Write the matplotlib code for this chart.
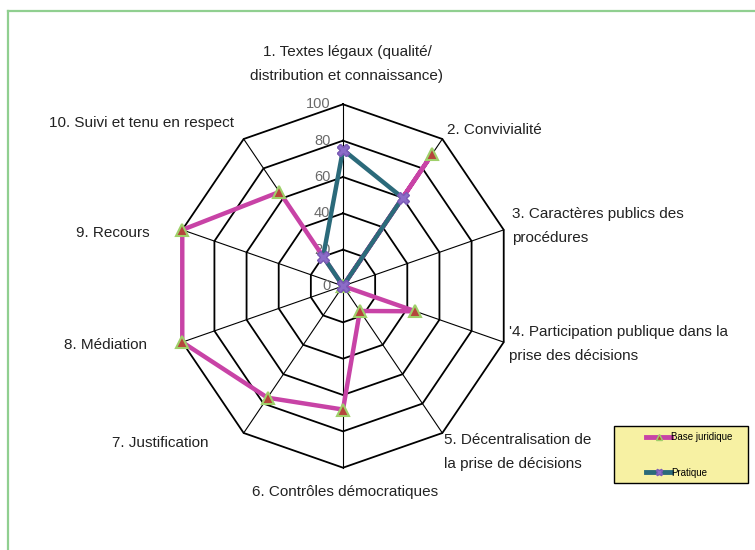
import matplotlib
matplotlib.use("Agg")
import matplotlib.pyplot as plt
import numpy as np
from matplotlib.lines import Line2D
from matplotlib.patches import Rectangle

plt.rcParams["font.family"] = ["Liberation Sans", "DejaVu Sans"]

# Data
categories = [
    "1. Textes légaux (qualité/\ndistribution et connaissance)",
    "2. Convivialité",
    "3. Caractères publics des\nprocédures",
    "'4. Participation publique dans la\nprise des décisions",
    "5. Décentralisation de\nla prise de décisions",
    "6. Contrôles démocratiques",
    "7. Justification",
    "8. Médiation",
    "9. Recours",
    "10. Suivi et tenu en respect",
]
base_juridique = [0, 90, 0, 45, 17, 68, 76, 100, 100, 64]
pratique = [75, 60, 0, 0, 0, 0, 0, 0, 0, 20]
ring_levels = [0, 20, 40, 60, 80, 100]
series_names = ["Base juridique", "Pratique"]

W, H = 755, 550
CX, CY = 343, 286          # centre of the web in pixels
SX, SY = 1.69, 1.817       # pixels per unit along x and y

fig = plt.figure(figsize=(W / 100, H / 100), dpi=100)
ax = fig.add_axes([0, 0, 1, 1])
ax.set_xlim(-CX / SX, (W - CX) / SX)
ax.set_ylim(-(H - CY) / SY, CY / SY)
ax.axis("off")

n = len(categories)
theta = np.arange(n) * 2 * np.pi / n


def to_xy(values):
    r = np.asarray(values, dtype=float)
    x = r * np.sin(theta)
    y = r * np.cos(theta)
    return np.append(x, x[0]), np.append(y, y[0])


# Web grid
for lvl in ring_levels[1:]:
    gx, gy = to_xy([lvl] * n)
    ax.plot(gx, gy, color="black", lw=1.3, zorder=1)
for t in theta:
    ax.plot([0, 100 * np.sin(t)], [0, 100 * np.cos(t)], color="black", lw=0.8, zorder=1)

# Radial tick labels along the top axis
for lvl in ring_levels:
    ax.text(-7.5, lvl, str(lvl), ha="right", va="center", fontsize=10.5, color="#6a6a6a")

# Series
bx, by = to_xy(base_juridique)
ax.plot(bx, by, color="#c843a6", lw=3.2, zorder=3,
        marker="^", markersize=9, markerfacecolor="#b5453c",
        markeredgecolor="#9fd06a", markeredgewidth=1.5)
px, py = to_xy(pratique)
ax.plot(px, py, color="#2b6a7a", lw=3.2, zorder=4,
        marker="X", markersize=9, markerfacecolor="#8c6cc8",
        markeredgecolor="#7a5bb5", markeredgewidth=1)

# Category labels (pixel positions)
def ftext(x, y, s, **kw):
    fig.text(x / W, 1 - y / H, s, fontsize=11, color="#222222", **kw)

ftext(347, 64, categories[0], ha="center", va="center", linespacing=1.85)
ftext(447, 130, categories[1], ha="left", va="center")
ftext(512, 226, categories[2], ha="left", va="center", linespacing=1.85)
ftext(509, 344, categories[3], ha="left", va="center", linespacing=1.85)
ftext(444, 452, categories[4], ha="left", va="center", linespacing=1.85)
ftext(345, 492, categories[5], ha="center", va="center")
ftext(208, 443, categories[6], ha="right", va="center")
ftext(147, 345, categories[7], ha="right", va="center")
ftext(150, 233, categories[8], ha="right", va="center")
ftext(234, 123, categories[9], ha="right", va="center")

# Legend box
fig.add_artist(Rectangle((614 / W, 1 - 483 / H), (748 - 614) / W, (483 - 426) / H,
                         transform=fig.transFigure, facecolor="#f7f1a3",
                         edgecolor="black", lw=1, zorder=5))
handles = [
    Line2D([], [], color="#c843a6", lw=3.5, marker="^", markersize=5,
           markerfacecolor="#b5453c", markeredgecolor="#9fd06a"),
    Line2D([], [], color="#2b6a7a", lw=3.5, marker="X", markersize=5,
           markerfacecolor="#8c6cc8", markeredgecolor="#7a5bb5"),
]
leg = fig.legend(handles, series_names, loc="center left",
                 bbox_to_anchor=(641 / W, 1 - 455 / H), frameon=False,
                 fontsize=7, handlelength=2.6, handletextpad=0.0,
                 labelspacing=2.6, borderpad=0)
leg.set_zorder(6)

# Green frame lines (top and left)
fig.add_artist(Line2D([8 / W, 1], [1 - 11 / H, 1 - 11 / H], transform=fig.transFigure,
                      color="#90cf90", lw=1.6))
fig.add_artist(Line2D([8 / W, 8 / W], [1 - 11 / H, 0], transform=fig.transFigure,
                      color="#90cf90", lw=1.6))

fig.savefig("out.png", dpi=100)
